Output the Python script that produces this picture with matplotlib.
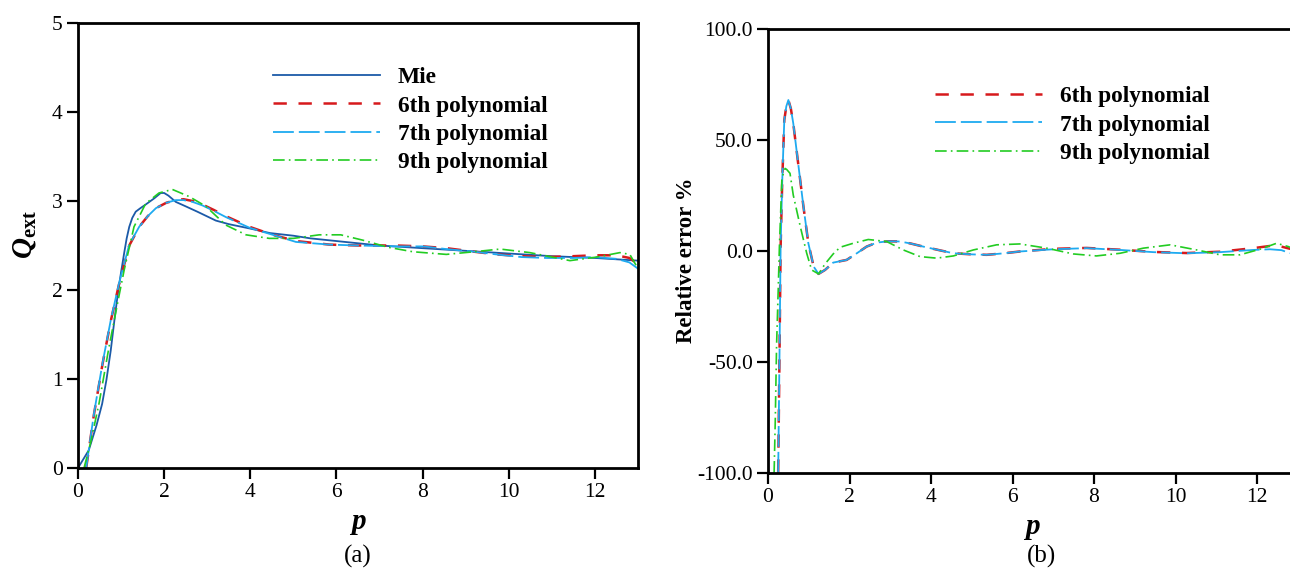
import matplotlib
matplotlib.use("Agg")
import matplotlib.pyplot as plt

plt.rcParams['font.family'] = ['Liberation Serif', 'DejaVu Serif']
plt.rcParams['mathtext.fontset'] = 'custom'
plt.rcParams['mathtext.rm'] = 'Liberation Serif'
plt.rcParams['mathtext.it'] = 'Liberation Serif:italic'
plt.rcParams['mathtext.bf'] = 'Liberation Serif:bold'
plt.rcParams['mathtext.bfit'] = 'Liberation Serif:italic:bold'
plt.rcParams['lines.scale_dashes'] = False

# ---------------- (a) extinction efficiency ----------------
p_mie = [0, 0.25, 0.43, 0.56, 0.66, 0.76, 0.85, 0.93, 1.0, 1.07, 1.13, 1.19, 1.26,
         1.34, 1.45, 1.57, 1.77, 1.92, 2.0, 2.1, 2.27, 2.5, 2.77, 3.2, 3.5, 4.0,
         4.45, 5.0, 5.4, 6.0, 6.6, 7.0, 8.0, 9.0, 10.0, 11.0, 12.0, 13.0]
q_mie = [0, 0.2, 0.48, 0.72, 0.99, 1.32, 1.68, 1.98, 2.2, 2.41, 2.58, 2.71, 2.81,
         2.88, 2.92, 2.96, 3.03, 3.09, 3.09, 3.06, 2.99, 2.94, 2.88, 2.78, 2.74, 2.69,
         2.64, 2.61, 2.58, 2.55, 2.52, 2.50, 2.47, 2.44, 2.41, 2.38, 2.36, 2.33]

p_fit67 = [0.19, 0.37, 0.57, 0.76, 0.95, 1.19, 1.42, 1.62, 1.81, 2.05, 2.27, 2.45,
           2.66, 2.89, 3.15, 3.43, 3.98, 4.52, 5.06, 5.84, 6.5, 7.39, 8.0, 8.55,
           9.2, 9.71, 10.3, 10.87, 11.5, 12.0, 12.5, 12.8, 13.0]
q_poly6 = [0, 0.6, 1.17, 1.65, 2.06, 2.5, 2.71, 2.83, 2.92, 2.98, 3.01, 3.02,
           3.0, 2.96, 2.9, 2.83, 2.71, 2.62, 2.55, 2.51, 2.50, 2.50, 2.49, 2.47,
           2.43, 2.40, 2.38, 2.37, 2.38, 2.39, 2.39, 2.36, 2.29]
q_poly7 = [0, 0.61, 1.18, 1.66, 2.07, 2.51, 2.71, 2.83, 2.92, 2.98, 3.01, 3.01,
           2.99, 2.95, 2.89, 2.82, 2.70, 2.62, 2.54, 2.51, 2.50, 2.49, 2.49, 2.46,
           2.43, 2.40, 2.37, 2.36, 2.36, 2.37, 2.35, 2.31, 2.24]

p_fit9 = [0.14, 0.3, 0.49, 0.72, 0.95, 1.07, 1.3, 1.57, 1.88, 2.19, 2.58, 2.97,
          3.43, 3.9, 4.44, 5.0, 5.6, 6.1, 6.61, 7.2, 7.77, 8.55, 9.2, 9.8, 10.49,
          11.0, 11.42, 12.04, 12.58, 12.81, 13.0]
q_poly9 = [0, 0.3, 0.73, 1.36, 1.93, 2.22, 2.71, 2.97, 3.09, 3.13, 3.05, 2.94,
           2.73, 2.62, 2.58, 2.58, 2.62, 2.62, 2.56, 2.48, 2.43, 2.40, 2.43, 2.46,
           2.42, 2.37, 2.33, 2.37, 2.42, 2.40, 2.24]

# ---------------- (b) relative error (%) ----------------
p_err67 = [0.25, 0.28, 0.31, 0.35, 0.40, 0.45, 0.50, 0.56, 0.62, 0.74, 0.87, 0.99,
           1.12, 1.24, 1.40, 1.60, 1.93, 2.18, 2.42, 2.67, 2.95, 3.24, 3.5, 3.81,
           4.2, 4.55, 5.0, 5.37, 5.8, 6.18, 7.0, 7.82, 8.64, 9.46, 10.27, 11.09,
           11.91, 12.32, 12.6, 12.77, 13.0]
err_poly6 = [-100, -50.7, 1.8, 31.8, 58.8, 65, 67.8, 64, 57.3, 39.3, 19.8, 3.3,
             -7.2, -10.5, -8.7, -5.4, -4.2, -1.2, 1.8, 3.6, 4.2, 4.1, 3.2, 1.8,
             0.2, -1.2, -1.7, -1.9, -1.2, -0.4, 0.8, 1.2, 0.4, -0.6, -1.1, -0.5,
             1.1, 2.1, 1.8, 1.0, 0.0]
err_poly7 = [-100, -50.7, 1.8, 31.8, 58.8, 65, 67.8, 64, 57.3, 39.3, 19.8, 3.3,
             -7.2, -10.5, -8.7, -5.4, -4.2, -1.2, 1.8, 3.6, 4.2, 4.1, 3.2, 1.8,
             0.2, -1.2, -1.7, -1.9, -1.2, -0.4, 0.6, 1.1, 0.3, -0.7, -1.2, -0.7,
             0.3, 0.6, 0.2, -0.9, -2.0]

p_err9 = [0.15, 0.18, 0.21, 0.25, 0.28, 0.34, 0.38, 0.42, 0.46, 0.54, 0.62, 0.79,
          0.95, 1.07, 1.24, 1.40, 1.60, 1.77, 2.09, 2.46, 2.91, 3.32, 3.73, 4.14,
          4.55, 5.04, 5.61, 6.18, 6.84, 7.49, 8.06, 8.64, 9.21, 9.87, 10.52, 11.09,
          11.58, 12.07, 12.48, 12.77, 13.0]
err_poly9 = [-100, -75, -43, -18, 1.8, 31.8, 35, 37, 36.5, 34.8, 25, 11,
             -1.2, -8.7, -10.5, -6, -1.5, 1.5, 3.3, 5.0, 4.1, 0.3, -2.7, -3.4,
             -2.4, 0.3, 2.6, 3.0, 1.1, -1.5, -2.4, -1.2, 1.1, 2.6, 0.3, -1.9,
             -1.9, 0.6, 3.3, 1.8, 0.0]

x_ticks = [0, 2, 4, 6, 8, 10, 12]
q_ticks = [0, 1, 2, 3, 4, 5]
err_ticks = [-100, -50, 0, 50, 100]
err_ticklabels = ['-100.0', '-50.0', '0.0', '50.0', '100.0']

labels = ['Mie', '6th polynomial', '7th polynomial', '9th polynomial']

c_mie = '#1b5aa8'
c_p6 = '#d7191c'
c_p7 = '#1eaaf0'
c_p9 = '#22cc22'
ls_p6 = (0, (9.6, 8.4))
ls_p7 = (0, (15.0, 3.6))
ls_p9 = (0, (8.4, 3.0, 1.2, 3.0))

W, H = 1290, 570
fig = plt.figure(figsize=(W / 100, H / 100), dpi=100)
ax1 = fig.add_axes([78 / W, (H - 468) / H, 560 / W, 445 / H])
ax2 = fig.add_axes([768 / W, (H - 472.7) / H, 529.75 / W, 444.2 / H])

tick_fs = 15.5
leg_fs = 16.8

def style_axes(ax):
    for s in ax.spines.values():
        s.set_linewidth(2.0)
    ax.tick_params(axis='both', which='major', direction='out', length=8,
                   width=1.6, pad=3, labelsize=tick_fs,
                   top=False, right=False)

# (a)
ax1.plot(p_mie, q_mie, color=c_mie, lw=1.3, label=labels[0])
ax1.plot(p_fit67, q_poly6, color=c_p6, lw=1.8, linestyle=ls_p6, label=labels[1])
ax1.plot(p_fit67, q_poly7, color=c_p7, lw=1.3, linestyle=ls_p7, label=labels[2])
ax1.plot(p_fit9, q_poly9, color=c_p9, lw=1.2, linestyle=ls_p9, label=labels[3])
ax1.set_xlim(0, 13)
ax1.set_ylim(0, 5)
ax1.set_xticks(x_ticks)
ax1.set_yticks(q_ticks)
style_axes(ax1)
ax1.set_xlabel('p', fontsize=21, fontweight='bold', fontstyle='italic', labelpad=4)
fig.text(25 / W, 1 - 234 / H, r'$\mathbfit{Q}_{\mathbf{ext}}$', fontsize=21,
         rotation=90, ha='center', va='center')
leg1 = ax1.legend(loc='upper left', bbox_to_anchor=((273 - 78) / 560, (468 - 67) / 445),
                  frameon=False, borderpad=0, borderaxespad=0,
                  handlelength=107 / 23.3, handletextpad=0.75, labelspacing=0.30,
                  prop={'size': leg_fs, 'weight': 'bold'})

# (b)
ax2.plot(p_err67, err_poly6, color=c_p6, lw=1.8, linestyle=ls_p6, label=labels[1])
ax2.plot(p_err67, err_poly7, color=c_p7, lw=1.3, linestyle=ls_p7, label=labels[2])
ax2.plot(p_err9, err_poly9, color=c_p9, lw=1.2, linestyle=ls_p9, label=labels[3])
ax2.set_xlim(0, 13)
ax2.set_ylim(-100, 100)
ax2.set_xticks(x_ticks)
ax2.set_yticks(err_ticks)
ax2.set_yticklabels(err_ticklabels)
style_axes(ax2)
ax2.set_xlabel('p', fontsize=21, fontweight='bold', fontstyle='italic', labelpad=4)
fig.text(686 / W, 1 - 260 / H, 'Relative error %', fontsize=16.5, fontweight='bold',
         rotation=90, ha='center', va='center')
leg2 = ax2.legend(loc='upper left',
                  bbox_to_anchor=((935 - 768) / 529.75, (472.7 - 86) / 444.2),
                  frameon=False, borderpad=0, borderaxespad=0,
                  handlelength=107 / 23.3, handletextpad=0.75, labelspacing=0.30,
                  prop={'size': leg_fs, 'weight': 'bold'})

fig.text(358 / W, 1 - 556 / H, '(a)', fontsize=18, ha='center', va='center')
fig.text(1041 / W, 1 - 556 / H, '(b)', fontsize=18, ha='center', va='center')

fig.savefig('out.png', dpi=100)
